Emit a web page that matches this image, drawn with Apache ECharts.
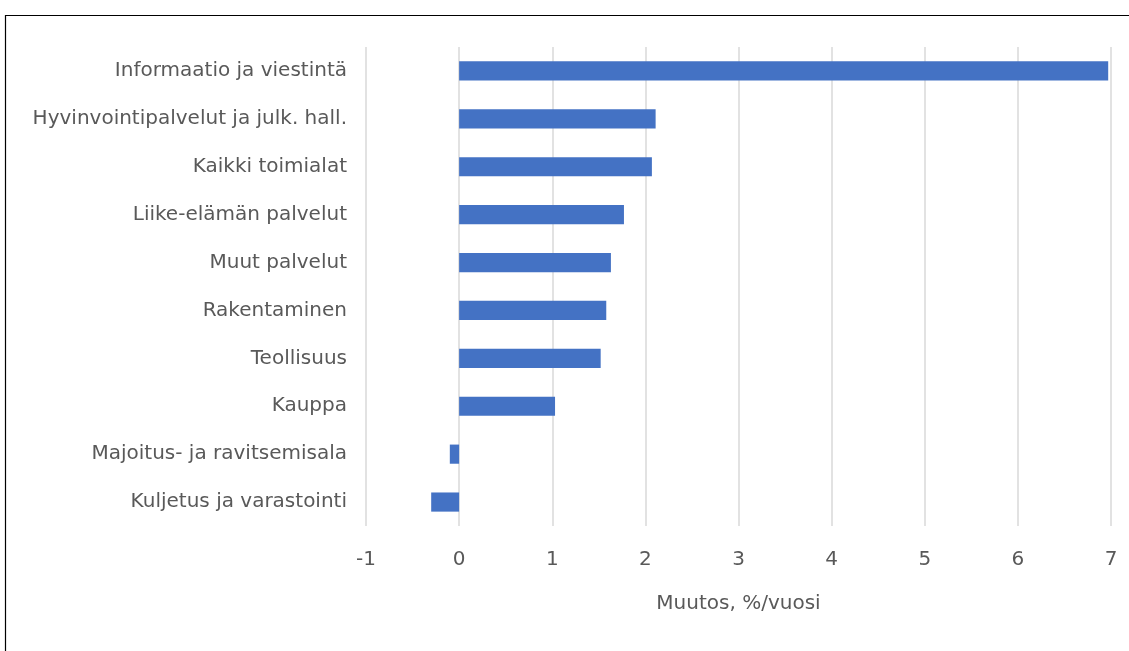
<!DOCTYPE html>
<html><head><meta charset="utf-8">
<script src="https://cdn.jsdelivr.net/npm/echarts@6/dist/echarts.min.js"></script>
<style>html,body{margin:0;padding:0;background:#fff}#c{width:1129px;height:651px}</style>
</head><body><div id="c"></div>
<script>
const categories = ["Informaatio ja viestintä","Hyvinvointipalvelut ja julk. hall.","Kaikki toimialat","Liike-elämän palvelut","Muut palvelut","Rakentaminen","Teollisuus","Kauppa","Majoitus- ja ravitsemisala","Kuljetus ja varastointi"];
const values = [6.97, 2.11, 2.07, 1.77, 1.63, 1.58, 1.52, 1.03, -0.1, -0.3];
const xTicks = [-1,0,1,2,3,4,5,6,7];
const axisTitle = "Muutos, %/vuosi";

const FONT = 'DejaVu Sans';
const chart = echarts.init(document.getElementById('c'), null, {renderer:'canvas'});
chart.setOption({
  animation:false,
  backgroundColor:'#fff',
  graphic:[{type:'rect', shape:{x:5.5,y:15.5,width:1200,height:700}, style:{fill:'none',stroke:'#000',lineWidth:1.2}, silent:true}],
  grid:{left:366, right:18, top:47, bottom:125, containLabel:false},
  xAxis:{type:'value', min:xTicks[0], max:xTicks[xTicks.length-1], interval:1,
    name:axisTitle, nameLocation:'middle', nameGap:68,
    nameTextStyle:{color:'#595959', fontSize:20, fontFamily:FONT},
    axisLine:{show:false}, axisTick:{show:false},
    axisLabel:{color:'#595959', fontSize:20, fontFamily:FONT, margin:24},
    splitLine:{show:true, lineStyle:{color:'#d9d9d9', width:1.5}}},
  yAxis:{type:'category', data:categories, inverse:true,
    axisLine:{show:false}, axisTick:{show:false},
    axisLabel:{color:'#595959', fontSize:20, fontFamily:FONT, margin:19, padding:[4,0,0,0]}},
  series:[{type:'bar', data:values, barWidth:'40%', itemStyle:{color:'#4472c4'}}]
});
</script></body></html>
